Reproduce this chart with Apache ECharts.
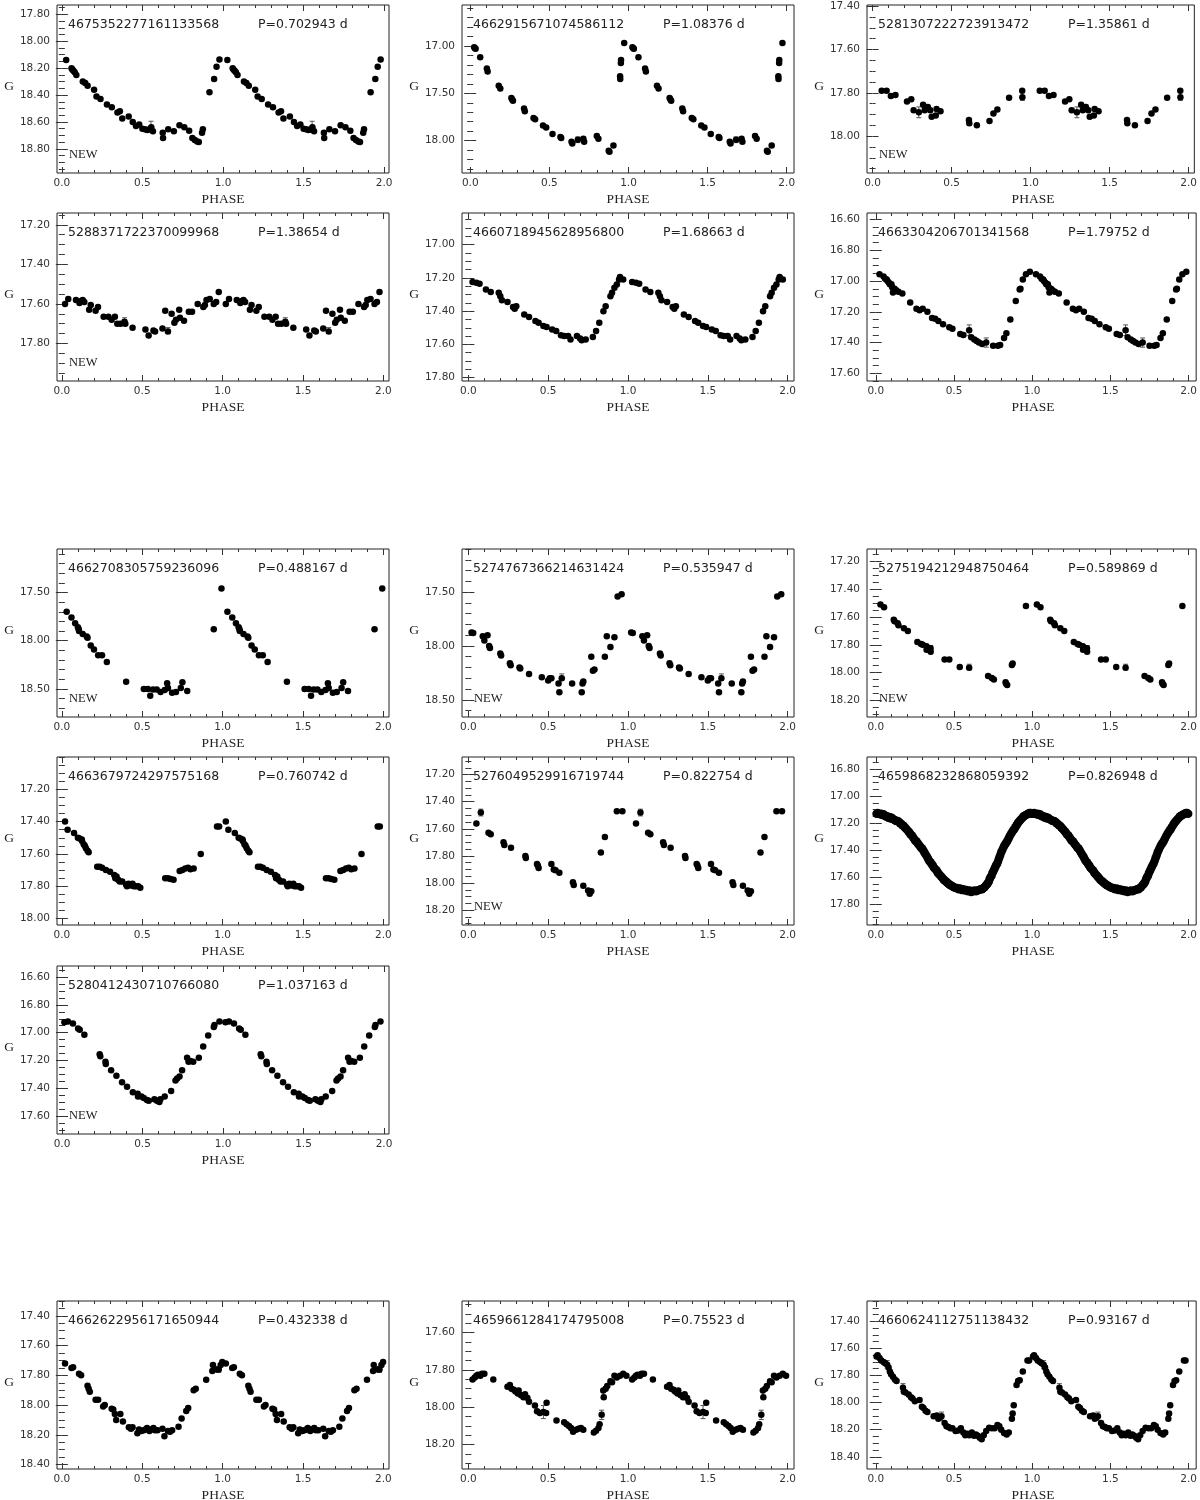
<!DOCTYPE html>
<html>
<head>
<meta charset="utf-8">
<script src="https://cdn.jsdelivr.net/npm/echarts@6/dist/echarts.min.js"></script>
<style>html,body{margin:0;padding:0;background:#fff}#c{width:1200px;height:1500px}</style>
</head>
<body>
<div id="c"></div>
<script>
// ---------- labels ----------
const ids = ["4675352277161133568","4662915671074586112","5281307222723913472","5288371722370099968","4660718945628956800","4663304206701341568","4662708305759236096","5274767366214631424","5275194212948750464","4663679724297575168","5276049529916719744","4659868232868059392","5280412430710766080","4662622956171650944","4659661284174795008","4660624112751138432"];
const periods = ["P=0.702943 d","P=1.08376 d","P=1.35861 d","P=1.38654 d","P=1.68663 d","P=1.79752 d","P=0.488167 d","P=0.535947 d","P=0.589869 d","P=0.760742 d","P=0.822754 d","P=0.826948 d","P=1.037163 d","P=0.432338 d","P=0.75523 d","P=0.93167 d"];
const newFlags = [1,0,1,1,0,0,1,1,1,0,1,0,1,0,0,0];

// ---------- axis scales ----------
const xMin = [-0.03,-0.052,-0.035,-0.03,-0.04,-0.056,-0.03,-0.04,-0.056,-0.03,-0.04,-0.056,-0.031,-0.03,-0.04,-0.056];
const xMax = [2.03,2.046,2.036,2.035,2.04,2.048,2.035,2.04,2.048,2.035,2.04,2.048,2.031,2.035,2.04,2.048];
const xTickLabels = [0,0.5,1,1.5,2];
const yMin = [17.73,16.57,17.395,17.14,16.81,16.557,17.05,17.10,17.11,17.00,17.07,16.71,16.52,17.30,17.43,17.25];
const yMax = [18.98,18.34,18.17,17.99,17.82,17.65,18.79,18.66,18.32,18.04,18.31,17.955,17.73,18.43,18.33,18.49];
const yTickLabels = [
  [17.8,18.0,18.2,18.4,18.6,18.8],
  [17.0,17.5,18.0],
  [17.4,17.6,17.8,18.0],
  [17.2,17.4,17.6,17.8],
  [17.0,17.2,17.4,17.6,17.8],
  [16.6,16.8,17.0,17.2,17.4,17.6],
  [17.5,18.0,18.5],
  [17.5,18.0,18.5],
  [17.2,17.4,17.6,17.8,18.0,18.2],
  [17.2,17.4,17.6,17.8,18.0],
  [17.2,17.4,17.6,17.8,18.0,18.2],
  [16.8,17.0,17.2,17.4,17.6,17.8],
  [16.6,16.8,17.0,17.2,17.4,17.6],
  [17.4,17.6,17.8,18.0,18.2,18.4],
  [17.6,17.8,18.0,18.2],
  [17.4,17.6,17.8,18.0,18.2,18.4]
];
const yMinorStep = [0.05,0.1,0.05,0.05,0.05,0.05,0.1,0.1,0.05,0.05,0.05,0.05,0.05,0.05,0.05,0.05];

// ---------- data: [phase, G] (phase 0-1, shown twice) ----------
const lc1 = [[0.027,18.14],[0.06,18.20],[0.065,18.21],[0.072,18.22],[0.08,18.23],[0.09,18.25],[0.13,18.30],[0.145,18.31],[0.16,18.33],[0.20,18.36],[0.215,18.41],[0.24,18.43],[0.28,18.47],[0.31,18.49],[0.345,18.53],[0.36,18.52],[0.375,18.575],[0.415,18.56],[0.44,18.60],[0.46,18.63],[0.48,18.62],[0.50,18.65],[0.515,18.655],[0.53,18.66],[0.545,18.655],[0.555,18.64],[0.565,18.67],[0.626,18.68],[0.628,18.72],[0.66,18.655],[0.695,18.67],[0.73,18.625],[0.76,18.64],[0.79,18.665],[0.81,18.72],[0.825,18.735],[0.84,18.745],[0.85,18.75],[0.87,18.68],[0.875,18.655],[0.916,18.38],[0.945,18.28],[0.96,18.19],[0.978,18.135]];
const lc2 = [[0.025,17.015],[0.03,17.025],[0.034,17.03],[0.063,17.12],[0.105,17.24],[0.11,17.27],[0.18,17.42],[0.19,17.45],[0.26,17.55],[0.265,17.565],[0.27,17.58],[0.34,17.66],[0.345,17.69],[0.40,17.76],[0.41,17.775],[0.46,17.84],[0.48,17.86],[0.52,17.93],[0.57,17.96],[0.575,17.97],[0.64,18.01],[0.645,18.03],[0.68,17.99],[0.715,17.98],[0.72,18.01],[0.80,17.95],[0.81,17.98],[0.875,18.105],[0.88,18.115],[0.905,18.05],[0.947,17.32],[0.948,17.35],[0.952,17.18],[0.953,17.15],[0.973,16.97]];
const lc3 = [[0.058,17.79],[0.089,17.79],[0.116,17.815],[0.145,17.81],[0.218,17.84],[0.245,17.83],[0.26,17.88],[0.293,17.89],[0.32,17.855],[0.33,17.88],[0.35,17.865],[0.365,17.88],[0.374,17.91],[0.40,17.905],[0.405,17.875],[0.43,17.885],[0.61,17.925],[0.612,17.94],[0.66,17.95],[0.74,17.93],[0.765,17.895],[0.79,17.877],[0.864,17.823],[0.947,17.79],[0.948,17.82]];
const lc4 = [[0.02,17.60],[0.04,17.575],[0.088,17.58],[0.11,17.595],[0.12,17.585],[0.13,17.58],[0.14,17.59],[0.17,17.63],[0.18,17.605],[0.21,17.635],[0.225,17.615],[0.26,17.665],[0.29,17.665],[0.31,17.68],[0.33,17.665],[0.345,17.70],[0.365,17.70],[0.39,17.69],[0.395,17.70],[0.44,17.72],[0.52,17.73],[0.54,17.76],[0.57,17.735],[0.58,17.74],[0.626,17.725],[0.643,17.635],[0.66,17.74],[0.683,17.65],[0.70,17.695],[0.71,17.68],[0.73,17.63],[0.735,17.67],[0.76,17.685],[0.79,17.64],[0.81,17.64],[0.845,17.60],[0.88,17.615],[0.89,17.605],[0.90,17.58],[0.92,17.575],[0.945,17.60],[0.96,17.59],[0.976,17.54]];
const lc5 = [[0.026,17.225],[0.05,17.23],[0.07,17.235],[0.11,17.27],[0.14,17.285],[0.19,17.29],[0.20,17.31],[0.21,17.335],[0.245,17.345],[0.28,17.375],[0.29,17.385],[0.30,17.37],[0.35,17.42],[0.38,17.435],[0.42,17.46],[0.44,17.47],[0.47,17.49],[0.49,17.495],[0.525,17.51],[0.55,17.52],[0.58,17.545],[0.60,17.55],[0.625,17.55],[0.64,17.57],[0.68,17.55],[0.70,17.565],[0.71,17.575],[0.735,17.57],[0.78,17.555],[0.80,17.52],[0.82,17.47],[0.846,17.40],[0.86,17.37],[0.89,17.31],[0.90,17.29],[0.915,17.26],[0.93,17.24],[0.944,17.21],[0.95,17.195],[0.97,17.21]];
const lc6 = [[0.024,16.955],[0.05,16.97],[0.06,16.985],[0.07,16.99],[0.075,17.00],[0.085,17.01],[0.09,17.02],[0.10,17.02],[0.105,17.04],[0.11,17.075],[0.12,17.05],[0.13,17.06],[0.145,17.07],[0.17,17.08],[0.22,17.14],[0.26,17.18],[0.28,17.19],[0.30,17.18],[0.33,17.20],[0.36,17.24],[0.38,17.245],[0.40,17.26],[0.43,17.28],[0.47,17.30],[0.49,17.31],[0.54,17.345],[0.56,17.35],[0.597,17.32],[0.61,17.365],[0.63,17.38],[0.645,17.39],[0.66,17.40],[0.68,17.41],[0.706,17.40],[0.75,17.42],[0.78,17.42],[0.795,17.415],[0.82,17.37],[0.835,17.34],[0.86,17.25],[0.895,17.13],[0.92,17.055],[0.925,17.05],[0.94,16.99],[0.96,16.955],[0.985,16.94]];
const lc7 = [[0.03,17.70],[0.06,17.76],[0.083,17.82],[0.10,17.86],[0.105,17.88],[0.107,17.90],[0.13,17.93],[0.155,17.955],[0.16,17.97],[0.18,18.05],[0.20,18.09],[0.226,18.15],[0.25,18.15],[0.28,18.22],[0.40,18.425],[0.51,18.50],[0.535,18.50],[0.55,18.57],[0.567,18.505],[0.59,18.505],[0.614,18.53],[0.64,18.51],[0.655,18.44],[0.66,18.49],[0.686,18.54],[0.71,18.53],[0.74,18.49],[0.75,18.43],[0.78,18.52],[0.945,17.88],[0.993,17.46]];
const lc8 = [[0.02,17.875],[0.03,17.88],[0.09,17.91],[0.10,17.95],[0.12,17.90],[0.13,18.00],[0.135,18.02],[0.20,18.07],[0.205,18.09],[0.26,18.16],[0.265,18.18],[0.32,18.20],[0.325,18.21],[0.38,18.26],[0.46,18.29],[0.50,18.32],[0.51,18.30],[0.52,18.30],[0.565,18.35],[0.57,18.43],[0.585,18.30],[0.65,18.35],[0.71,18.43],[0.715,18.35],[0.72,18.33],[0.77,18.10],[0.78,18.23],[0.79,18.22],[0.855,18.10],[0.867,17.91],[0.89,18.01],[0.915,17.92],[0.935,17.54],[0.96,17.52]];
const lc9 = [[0.03,17.51],[0.053,17.53],[0.115,17.62],[0.12,17.63],[0.14,17.645],[0.145,17.66],[0.18,17.68],[0.205,17.70],[0.266,17.78],[0.29,17.795],[0.30,17.80],[0.324,17.81],[0.325,17.835],[0.35,17.825],[0.351,17.85],[0.44,17.905],[0.47,17.905],[0.537,17.96],[0.597,17.965],[0.718,18.025],[0.742,18.04],[0.755,18.05],[0.83,18.07],[0.833,18.08],[0.84,18.09],[0.87,17.945],[0.875,17.935],[0.96,17.52]];
const lc10 = [[0.02,17.40],[0.036,17.45],[0.076,17.47],[0.10,17.50],[0.11,17.505],[0.124,17.51],[0.126,17.52],[0.136,17.54],[0.143,17.55],[0.15,17.565],[0.16,17.58],[0.167,17.59],[0.22,17.68],[0.235,17.68],[0.25,17.685],[0.274,17.70],[0.30,17.71],[0.326,17.73],[0.333,17.75],[0.34,17.74],[0.35,17.76],[0.36,17.77],[0.376,17.77],[0.40,17.79],[0.405,17.80],[0.415,17.785],[0.43,17.795],[0.44,17.785],[0.448,17.80],[0.46,17.80],[0.475,17.80],[0.488,17.81],[0.643,17.75],[0.66,17.75],[0.676,17.755],[0.695,17.76],[0.733,17.705],[0.75,17.70],[0.768,17.69],[0.785,17.685],[0.80,17.695],[0.82,17.69],[0.864,17.60],[0.965,17.43],[0.978,17.43]];
const lc11 = [[0.05,17.56],[0.078,17.48],[0.126,17.63],[0.14,17.64],[0.22,17.70],[0.225,17.72],[0.267,17.74],[0.357,17.80],[0.36,17.815],[0.43,17.86],[0.435,17.87],[0.44,17.89],[0.52,17.86],[0.535,17.90],[0.546,17.905],[0.57,17.925],[0.655,17.995],[0.66,18.015],[0.72,18.02],[0.75,18.055],[0.76,18.08],[0.77,18.06],[0.83,17.775],[0.855,17.66],[0.93,17.47],[0.965,17.47]];
const lc12 = [[0.005,17.13],[0.012,17.125],[0.02,17.13],[0.028,17.135],[0.035,17.13],[0.042,17.14],[0.05,17.135],[0.058,17.145],[0.065,17.15],[0.072,17.15],[0.08,17.16],[0.088,17.155],[0.095,17.165],[0.102,17.16],[0.11,17.17],[0.118,17.175],[0.125,17.18],[0.132,17.185],[0.14,17.185],[0.148,17.19],[0.155,17.2],[0.162,17.205],[0.17,17.215],[0.178,17.22],[0.185,17.23],[0.192,17.24],[0.2,17.25],[0.208,17.26],[0.215,17.27],[0.222,17.285],[0.23,17.29],[0.238,17.305],[0.245,17.315],[0.252,17.33],[0.26,17.335],[0.268,17.35],[0.275,17.36],[0.282,17.37],[0.29,17.385],[0.298,17.39],[0.305,17.405],[0.312,17.42],[0.32,17.435],[0.328,17.45],[0.335,17.465],[0.342,17.48],[0.35,17.49],[0.358,17.505],[0.365,17.515],[0.372,17.53],[0.38,17.54],[0.388,17.55],[0.395,17.565],[0.402,17.575],[0.41,17.585],[0.418,17.595],[0.425,17.605],[0.432,17.615],[0.44,17.625],[0.448,17.63],[0.455,17.64],[0.462,17.645],[0.47,17.655],[0.478,17.66],[0.485,17.665],[0.492,17.67],[0.5,17.675],[0.51,17.68],[0.52,17.68],[0.53,17.69],[0.54,17.685],[0.55,17.695],[0.56,17.69],[0.57,17.7],[0.58,17.695],[0.59,17.705],[0.6,17.7],[0.61,17.71],[0.62,17.705],[0.63,17.7],[0.64,17.705],[0.65,17.7],[0.66,17.695],[0.67,17.69],[0.68,17.69],[0.688,17.68],[0.695,17.675],[0.702,17.665],[0.71,17.655],[0.716,17.645],[0.722,17.635],[0.728,17.615],[0.734,17.6],[0.74,17.59],[0.746,17.57],[0.752,17.555],[0.758,17.54],[0.764,17.525],[0.77,17.51],[0.776,17.5],[0.782,17.48],[0.788,17.46],[0.795,17.44],[0.802,17.415],[0.81,17.395],[0.818,17.375],[0.825,17.36],[0.832,17.35],[0.84,17.335],[0.848,17.315],[0.855,17.3],[0.862,17.285],[0.87,17.27],[0.878,17.255],[0.885,17.245],[0.892,17.23],[0.9,17.215],[0.908,17.2],[0.915,17.19],[0.922,17.18],[0.93,17.17],[0.938,17.16],[0.945,17.15],[0.952,17.145],[0.96,17.14],[0.968,17.135],[0.975,17.13],[0.982,17.125],[0.99,17.125],[0.997,17.13]];
const lc13 = [[0.015,16.925],[0.037,16.92],[0.068,16.935],[0.10,16.97],[0.11,16.98],[0.139,17.015],[0.234,17.155],[0.238,17.17],[0.27,17.21],[0.272,17.225],[0.305,17.27],[0.338,17.31],[0.373,17.357],[0.404,17.39],[0.44,17.43],[0.47,17.44],[0.472,17.46],[0.493,17.46],[0.508,17.47],[0.528,17.485],[0.539,17.49],[0.574,17.48],[0.59,17.49],[0.605,17.50],[0.611,17.48],[0.638,17.46],[0.678,17.42],[0.705,17.345],[0.715,17.33],[0.73,17.316],[0.746,17.27],[0.777,17.18],[0.786,17.21],[0.797,17.205],[0.815,17.21],[0.85,17.18],[0.877,17.10],[0.908,17.02],[0.943,16.96],[0.947,16.945],[0.978,16.92]];
const lc14 = [[0.02,17.72],[0.06,17.75],[0.07,17.745],[0.107,17.79],[0.12,17.80],[0.16,17.87],[0.167,17.89],[0.174,17.91],[0.21,17.965],[0.226,17.965],[0.257,18.01],[0.267,18.00],[0.31,18.025],[0.32,18.03],[0.33,18.06],[0.338,18.10],[0.364,18.06],[0.38,18.11],[0.417,18.15],[0.43,18.16],[0.44,18.15],[0.47,18.19],[0.48,18.165],[0.495,18.175],[0.51,18.17],[0.52,18.165],[0.53,18.155],[0.545,18.175],[0.555,18.165],[0.57,18.155],[0.58,18.17],[0.595,18.17],[0.626,18.16],[0.638,18.21],[0.66,18.175],[0.673,18.18],[0.686,18.17],[0.726,18.145],[0.745,18.09],[0.774,18.04],[0.786,18.02],[0.82,17.90],[0.833,17.89],[0.898,17.83],[0.936,17.77],[0.94,17.73],[0.964,17.76],[0.976,17.76],[0.988,17.73],[0.998,17.71]];
const lc15 = [[0.026,17.85],[0.04,17.84],[0.05,17.83],[0.06,17.825],[0.075,17.83],[0.085,17.82],[0.10,17.82],[0.156,17.85],[0.245,17.89],[0.26,17.88],[0.27,17.90],[0.285,17.905],[0.295,17.915],[0.31,17.925],[0.315,17.91],[0.33,17.935],[0.345,17.945],[0.355,17.93],[0.37,17.95],[0.38,17.97],[0.417,17.99],[0.43,18.02],[0.448,18.03],[0.47,18.025],[0.487,18.03],[0.49,17.975],[0.552,18.07],[0.60,18.08],[0.615,18.09],[0.63,18.10],[0.643,18.11],[0.656,18.13],[0.675,18.12],[0.69,18.115],[0.705,18.11],[0.72,18.12],[0.786,18.135],[0.80,18.125],[0.815,18.11],[0.822,18.09],[0.835,18.04],[0.845,17.91],[0.848,17.945],[0.86,17.90],[0.87,17.885],[0.89,17.86],[0.90,17.865],[0.915,17.83],[0.93,17.84],[0.95,17.83],[0.97,17.82],[0.99,17.83]];
const lc16 = [[0.005,17.66],[0.012,17.65],[0.024,17.67],[0.035,17.69],[0.05,17.70],[0.06,17.71],[0.073,17.72],[0.082,17.74],[0.09,17.77],[0.098,17.79],[0.11,17.81],[0.122,17.83],[0.133,17.84],[0.174,17.89],[0.18,17.92],[0.19,17.925],[0.21,17.94],[0.225,17.96],[0.235,17.97],[0.25,17.99],[0.28,17.98],[0.295,18.03],[0.305,18.04],[0.318,18.06],[0.33,18.07],[0.37,18.10],[0.39,18.095],[0.40,18.12],[0.41,18.11],[0.42,18.10],[0.44,18.15],[0.452,18.175],[0.465,18.18],[0.477,18.19],[0.49,18.19],[0.51,18.21],[0.527,18.205],[0.544,18.19],[0.56,18.22],[0.572,18.24],[0.585,18.23],[0.597,18.24],[0.614,18.22],[0.628,18.245],[0.64,18.235],[0.652,18.245],[0.665,18.26],[0.677,18.27],[0.69,18.24],[0.706,18.21],[0.725,18.185],[0.742,18.19],[0.76,18.19],[0.778,18.165],[0.79,18.175],[0.802,18.20],[0.82,18.225],[0.837,18.235],[0.85,18.22],[0.87,18.12],[0.875,18.08],[0.882,18.02],[0.9,17.87],[0.91,17.84],[0.92,17.835],[0.94,17.77],[0.97,17.69],[0.98,17.69]];
const lightCurves = [lc1,lc2,lc3,lc4,lc5,lc6,lc7,lc8,lc9,lc10,lc11,lc12,lc13,lc14,lc15,lc16];

// error bars: [phase, G, error]
const err1 = [[0.553,18.635,0.04]];
const err2 = [[0.68,17.99,0.03]];
const err3 = [[0.293,17.89,0.025],[0.948,17.815,0.02]];
const err4 = [[0.39,17.69,0.02],[0.66,17.735,0.015]];
const err5 = [];
const err6 = [[0.597,17.32,0.035],[0.706,17.40,0.03]];
const err7 = [];
const err8 = [[0.585,18.29,0.03]];
const err9 = [[0.351,17.83,0.025],[0.597,17.96,0.02]];
const err10 = [];
const err11 = [[0.078,17.48,0.025]];
const err12 = [[0.30,17.39,0.025],[0.805,17.40,0.02]];
const err13 = [];
const err14 = [[0.976,17.76,0.02]];
const err15 = [[0.47,18.025,0.035],[0.835,18.04,0.025],[0.845,17.93,0.02]];
const err16 = [[0.073,17.72,0.03],[0.174,17.89,0.03],[0.42,18.10,0.03]];
const errorBars = [err1,err2,err3,err4,err5,err6,err7,err8,err9,err10,err11,err12,err13,err14,err15,err16];

// ---------- layout ----------
const colLeft = [57, 462, 867];
const rowTop = [5, 213, 549, 757, 966, 1301];
const panelPos = [[0,0],[0,1],[0,2],[1,0],[1,1],[1,2],[2,0],[2,1],[2,2],[3,0],[3,1],[3,2],[4,0],[5,0],[5,1],[5,2]];
const W = 332, H = 168;
const markerSize = [6.5,6.5,6.5,6.5,6.5,6.5,6.5,6.5,6.5,6.5,6.5,8.5,6.5,6.5,6.5,6.5];

function r(v){ return Math.round(v*1000)/1000; }
function minorVals(lo, hi, step, majors){
  const out = [];
  const start = Math.ceil(lo/step - 1e-6);
  for (let k = start; k*step <= hi + 1e-9; k++){
    const v = r(k*step);
    if (!majors.some(m => Math.abs(m - v) < 1e-6)) out.push(v);
  }
  return out;
}

const chart = echarts.init(document.getElementById('c'), null, {renderer:'canvas'});
const grid = [], xAxis = [], yAxis = [], series = [], graphic = [];
const tickColor = '#333';
const labelFont = {fontSize: 10.5, fontFamily: 'DejaVu Sans', color: '#333'};

for (let i = 0; i < 16; i++){
  const [ri, ci] = panelPos[i];
  const left = colLeft[ci], top = rowTop[ri];
  grid.push({left: left, top: top, width: W, height: H, show: true, borderColor: '#222', borderWidth: 1, backgroundColor: 'rgba(0,0,0,0)'});
  const xMinor = minorVals(xMin[i], xMax[i], 0.1, xTickLabels);
  const yMinor = minorVals(yMin[i], yMax[i], yMinorStep[i], yTickLabels[i]);
  const xb = xAxis.length;
  const baseX = {type:'value', gridIndex:i, min:xMin[i], max:xMax[i], splitLine:{show:false}, axisLine:{show:false}};
  xAxis.push(Object.assign({}, baseX, {position:'bottom',
    axisTick:{show:true, inside:true, length:6, customValues:xTickLabels, lineStyle:{color:tickColor}},
    axisLabel:Object.assign({show:true, margin:5, customValues:xTickLabels, formatter:v=>Number(v).toFixed(1)}, labelFont)}));
  xAxis.push(Object.assign({}, baseX, {position:'bottom',
    axisTick:{show:true, inside:true, length:3, customValues:xMinor, lineStyle:{color:tickColor}}, axisLabel:{show:false}}));
  xAxis.push(Object.assign({}, baseX, {position:'top',
    axisTick:{show:true, inside:true, length:6, customValues:xTickLabels, lineStyle:{color:tickColor}}, axisLabel:{show:false}}));
  xAxis.push(Object.assign({}, baseX, {position:'top',
    axisTick:{show:true, inside:true, length:3, customValues:xMinor, lineStyle:{color:tickColor}}, axisLabel:{show:false}}));
  const yb = yAxis.length;
  const baseY = {type:'value', gridIndex:i, min:yMin[i], max:yMax[i], inverse:true, splitLine:{show:false}, axisLine:{show:false}};
  yAxis.push(Object.assign({}, baseY, {position:'left',
    axisTick:{show:true, inside:true, length:6, customValues:yTickLabels[i], lineStyle:{color:tickColor}},
    axisLabel:Object.assign({show:true, margin:7, customValues:yTickLabels[i], formatter:v=>Number(v).toFixed(2)}, labelFont)}));
  yAxis.push(Object.assign({}, baseY, {position:'left',
    axisTick:{show:true, inside:true, length:3, customValues:yMinor, lineStyle:{color:tickColor}}, axisLabel:{show:false}}));
  yAxis.push(Object.assign({}, baseY, {position:'right',
    axisTick:{show:true, inside:true, length:6, customValues:yTickLabels[i], lineStyle:{color:tickColor}}, axisLabel:{show:false}}));
  yAxis.push(Object.assign({}, baseY, {position:'right',
    axisTick:{show:true, inside:true, length:3, customValues:yMinor, lineStyle:{color:tickColor}}, axisLabel:{show:false}}));

  // phased light curve, shown over two cycles
  const pts = [];
  lightCurves[i].forEach(d => { pts.push([d[0], d[1]]); pts.push([d[0] + 1, d[1]]); });
  series.push({type:'scatter', xAxisIndex:xb, yAxisIndex:yb, data:pts, symbol:'circle', symbolSize:markerSize[i],
    itemStyle:{color:'#000', opacity:1}, silent:true, z:3});
  const eb = [];
  errorBars[i].forEach(d => { eb.push([d[0], d[1], d[2]]); eb.push([d[0] + 1, d[1], d[2]]); });
  if (eb.length){
    series.push({type:'custom', xAxisIndex:xb, yAxisIndex:yb, data:eb, z:2, silent:true,
      encode:{x:0, y:1},
      renderItem:function(params, api){
        const x = api.value(0), y = api.value(1), e = api.value(2);
        const a = api.coord([x, y - e]), b = api.coord([x, y + e]);
        const st = {stroke:'#555', lineWidth:1};
        return {type:'group', children:[
          {type:'line', shape:{x1:a[0], y1:a[1], x2:b[0], y2:b[1]}, style:st},
          {type:'line', shape:{x1:a[0]-2.5, y1:a[1], x2:a[0]+2.5, y2:a[1]}, style:st},
          {type:'line', shape:{x1:b[0]-2.5, y1:b[1], x2:b[0]+2.5, y2:b[1]}, style:st}
        ]};
      }});
  }

  // texts
  graphic.push({type:'text', x:left+11, y:top+20, silent:true,
    style:{text:ids[i], fontSize:12.5, fontFamily:'DejaVu Sans', fill:'#222', textAlign:'left', textVerticalAlign:'middle'}});
  graphic.push({type:'text', x:left+201, y:top+20, silent:true,
    style:{text:periods[i], fontSize:12.5, fontFamily:'DejaVu Sans', fill:'#222', textAlign:'left', textVerticalAlign:'middle'}});
  if (newFlags[i]) graphic.push({type:'text', x:left+12, y:top+150, silent:true,
    style:{text:'NEW', fontSize:12.5, fontFamily:'Liberation Serif', fill:'#222', textAlign:'left', textVerticalAlign:'middle'}});
  graphic.push({type:'text', x:left+W/2, y:top+H+26, silent:true,
    style:{text:'PHASE', fontSize:13.5, fontFamily:'Liberation Serif', fill:'#222', textAlign:'center', textVerticalAlign:'middle'}});
  graphic.push({type:'text', x:left-48, y:top+H/2-3, silent:true,
    style:{text:'G', fontSize:13.5, fontFamily:'Liberation Serif', fill:'#222', textAlign:'center', textVerticalAlign:'middle'}});
}

chart.setOption({animation:false, backgroundColor:'#fff', grid, xAxis, yAxis, series, graphic});
</script>
</body>
</html>
